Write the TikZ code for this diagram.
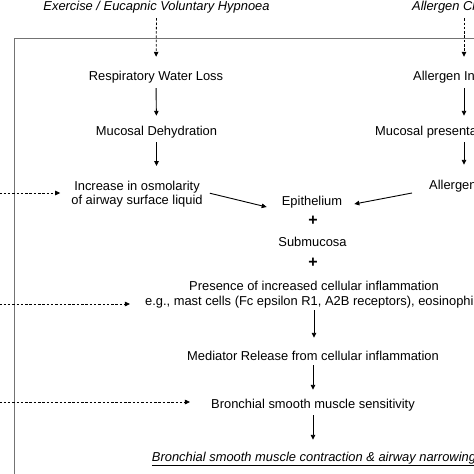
\documentclass[tikz,border=0pt]{standalone}
\usepackage{fontspec}
\setmainfont{Liberation Sans}
\usetikzlibrary{arrows.meta,calc}
\begin{document}
\begin{tikzpicture}[x=1pt,y=-1pt,
  txt/.style={font=\fontsize{12.9}{14.5}\selectfont, inner sep=0pt, text height=9.5pt, text depth=2.7pt, text=black},
  txtm/.style={font=\fontsize{12.9}{14.5}\selectfont, inner sep=0pt, align=center, text=black},
  hdr/.style={txt, font=\fontsize{12.9}{14.5}\selectfont\itshape},
  plus/.style={txt, font=\fontsize{16}{16}\selectfont\bfseries},
  arr/.style={draw=black, line width=0.9pt, -{Triangle[length=5pt,width=4.5pt]}},
  darr/.style={arr, line width=0.8pt, dash pattern=on 2.5pt off 1.8pt},
  frame/.style={draw=black!55, line width=1.4pt}]
\useasboundingbox (0,0) rectangle (474,474);
\clip (0,0) rectangle (474,474);
\fill[white] (0,0) rectangle (474,474);

% frame
\draw[frame] (14.5,520) -- (14.5,38.5) -- (520,38.5);

% left column
\node[hdr] (ex) at (156.5,7) {Exercise / Eucapnic Voluntary Hypnoea};
\node[txt] (rwl) at (156,77) {Respiratory Water Loss};
\node[txt] (md) at (156.5,132) {Mucosal Dehydration};
\node[txtm] (osm) at (137,194.2) {Increase in osmolarity\\of airway surface liquid};

% right column
\coordinate (rc) at (464,0);
\node[hdr, anchor=west] (ac) at (412,7) {Allergen Challenge};
\node[txt, anchor=west] (inh) at (413,77) {Allergen Inhalation};
\node[txt, anchor=west] (mp) at (375,132) {Mucosal presentation};
\node[txt, anchor=west] (alg) at (429,186) {Allergen};

% centre column
\node[txt] (epi) at (312,202) {Epithelium};
\node[plus] (p1) at (313,222.5) {+};
\node[txt] (sub) at (312.5,243) {Submucosa};
\node[plus] (p2) at (313,264.5) {+};
\node[txtm] (pres) at (314,294.5) {Presence of increased cellular inflammation\\e.g., mast cells (Fc epsilon R1, A2B receptors), eosinophils};
\node[txt] (med) at (313,356.8) {Mediator Release from cellular inflammation};
\node[txt] (bsm) at (313,405) {Bronchial smooth muscle sensitivity};
\node[txt, font=\fontsize{12.9}{14.5}\selectfont\itshape] (bc) at (314,457.8) {\underline{Bronchial smooth muscle contraction \& airway narrowing}};

% left column arrows
\draw[darr, shorten <=4.9pt, shorten >=13.9pt] (ex.south) -- (rwl.north);
\draw[arr, shorten <=4.9pt, shorten >=9.9pt] (rwl.south) -- (md.north);
\draw[arr, shorten <=3.9pt, shorten >=14.7pt] (md.south) -- (md.south |- osm.north);

% right column arrows
\draw[darr, shorten <=4.9pt, shorten >=13.9pt] (rc |- ac.south) -- (rc |- inh.north);
\draw[arr, shorten <=4.9pt, shorten >=9.9pt] (rc |- inh.south) -- (rc |- mp.north);
\draw[arr, shorten <=3.9pt, shorten >=14.9pt] (rc |- mp.south) -- (rc |- alg.north);

% converging arrows
\draw[arr] ($(osm.east)+(7,-1)$) -- ($(epi.west)+(-15,5)$);
\draw[arr] ($(alg.west)+(-17,7)$) -- ($(epi.east)+(12,2)$);

% centre arrows
\draw[arr, shorten <=2.1pt, shorten >=12.7pt] (pres.south) -- (pres.south |- med.north);
\draw[arr, shorten <=2.1pt, shorten >=8.9pt] (med.south) -- (med.south |- bsm.north);
\draw[arr, shorten <=3.9pt, shorten >=11.7pt] (bsm.south) -- (bsm.south |- bc.north);

% dashed arrows from the left
\coordinate (l1) at (-5,193);
\coordinate (l2) at (-5,304);
\coordinate (l3) at (-5,402);
\draw[darr, shorten >=11pt] (l1) -- (l1 -| osm.west);
\draw[darr, shorten >=15pt] (l2) -- (l2 -| pres.west);
\draw[darr, shorten >=21pt] (l3) -- (l3 -| bsm.west);
\end{tikzpicture}
\end{document}
